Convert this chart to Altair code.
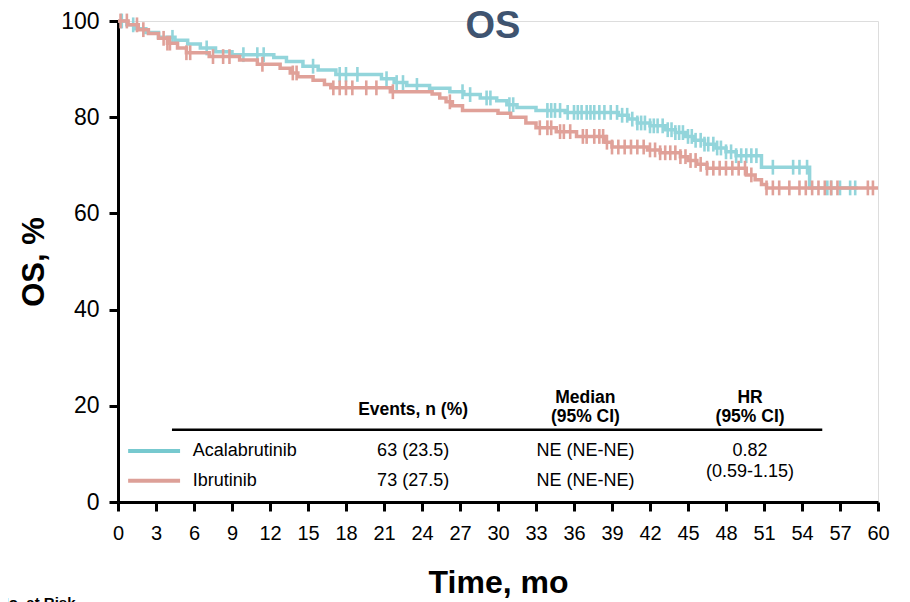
import altair as alt
import pandas as pd

FONT = "Liberation Sans"

# ---- Kaplan-Meier step data (months, OS %) ----
acala_t = [0, 0.7, 1.3, 2.2, 3.2, 4.5, 5.5, 6.5, 7.7, 9.0, 12.3, 13.3, 14.6, 15.8, 17.2,
           20.8, 21.8, 22.8, 24.6, 26.2, 27.3, 28.6, 29.9, 30.7, 31.5, 33.0, 35.3, 39.5,
           40.3, 41.0, 42.0, 43.2, 44.0, 44.8, 45.5, 46.3, 47.2, 48.0, 48.8, 50.8, 54.6, 58.4]
acala_s = [100, 99.2, 98.4, 97.6, 96.6, 96.0, 95.2, 94.4, 93.6, 93.0, 92.4, 91.6, 90.6, 89.8, 88.9,
           88.0, 87.2, 86.6, 86.0, 85.3, 84.7, 84.0, 83.4, 82.6, 82.0, 81.4, 81.0, 80.4,
           79.6, 78.8, 78.2, 77.4, 76.8, 76.0, 75.2, 74.4, 73.6, 72.8, 72.0, 69.6, 65.3, 65.3]

ibru_t = [0, 0.8, 1.6, 2.4, 3.2, 3.9, 4.7, 5.4, 7.2, 9.6, 11.0, 12.8, 13.6, 14.2, 15.4, 16.3,
          16.8, 21.5, 24.8, 25.4, 25.9, 26.4, 27.2, 30.0, 31.0, 32.2, 33.0, 34.6, 36.2, 38.5,
          39.0, 41.8, 42.8, 44.4, 45.0, 45.7, 46.5, 49.6, 50.3, 50.8, 51.2, 60.0]
ibru_s = [100, 99.2, 98.2, 97.4, 96.4, 95.4, 94.4, 93.4, 92.6, 91.9, 91.0, 90.2, 89.2, 88.4, 87.7, 86.8,
          86.1, 85.3, 84.8, 84.0, 83.2, 82.4, 81.4, 80.8, 80.0, 78.8, 77.8, 77.0, 76.0, 74.8,
          73.8, 73.2, 72.6, 71.8, 71.0, 70.2, 69.4, 68.0, 67.0, 66.0, 65.3, 65.3]

# censoring times (months)
acala_cens = [0.3, 1.2, 4.3, 7.0, 9.9, 11.0, 11.5, 15.4, 17.5, 18.0, 18.9, 21.2, 22.0, 22.5, 23.6,
              27.2, 27.8, 29.1, 29.4, 30.9, 31.2, 33.9, 34.2, 34.5, 34.9, 35.5, 36.0, 36.3, 36.6,
              37.0, 37.3, 37.6, 38.0, 38.4, 38.9, 39.4, 39.8, 40.2, 40.6, 41.0, 41.3, 41.6, 42.0,
              42.3, 42.6, 43.0, 43.4, 43.7, 44.0, 44.3, 44.6, 45.0, 45.3, 45.6, 46.0, 46.3, 46.6,
              47.0, 47.3, 47.6, 48.0, 48.4, 48.8, 49.2, 49.6, 50.0, 50.4, 51.7, 53.3, 53.8, 54.4,
              56.0, 56.3, 57.0, 57.8, 58.2]
ibru_cens = [0.2, 0.7, 1.5, 2.0, 3.6, 3.9, 4.1, 5.4, 5.7, 7.5, 8.3, 8.8, 11.4, 13.8, 14.1, 17.0,
             17.5, 18.0, 18.5, 19.6, 20.4, 21.7, 26.2, 33.3, 33.9, 34.2, 34.9, 35.2, 35.7, 36.7,
             37.0, 37.6, 38.0, 38.3, 38.6, 39.0, 39.5, 40.0, 40.5, 41.0, 41.5, 42.0, 42.4, 42.8,
             43.2, 43.6, 44.0, 44.4, 44.8, 45.2, 45.6, 46.0, 46.5, 47.0, 47.5, 48.0, 48.5, 49.0,
             49.5, 50.0, 51.2, 51.7, 52.2, 53.0, 53.8, 54.3, 54.8, 55.3, 55.8, 56.3, 56.8, 59.2, 59.6]

arms = ["Acalabrutinib", "Ibrutinib"]
line_colors = ["#93d5db", "#e0a199"]
legend_colors = ["#77c9cf", "#dda098"]

events = ["63 (23.5)", "73 (27.5)"]
medians = ["NE (NE-NE)", "NE (NE-NE)"]
hr_text = ["0.82", "(0.59-1.15)"]
x_ticks = list(range(0, 61, 3))
y_ticks = [0, 20, 40, 60, 80, 100]


def step_value(times, vals, t):
    v = vals[0]
    for ti, vi in zip(times, vals):
        if ti <= t:
            v = vi
        else:
            break
    return v


acala_df = pd.DataFrame({"t": acala_t, "s": acala_s})
ibru_df = pd.DataFrame({"t": ibru_t, "s": ibru_s})
acala_c = pd.DataFrame({"t": acala_cens, "s": [step_value(acala_t, acala_s, c) for c in acala_cens]})
ibru_c = pd.DataFrame({"t": ibru_cens, "s": [step_value(ibru_t, ibru_s, c) for c in ibru_cens]})

xs = alt.Scale(domain=[0, 60], nice=False, zero=False)
ys = alt.Scale(domain=[0, 100], nice=False)

X = alt.X("t:Q", scale=xs, title="Time, mo",
          axis=alt.Axis(values=x_ticks, labelFontSize=20, labelFont=FONT, labelColor="black",
                        labelPadding=12, tickSize=9, tickWidth=3, tickColor="black",
                        domainWidth=3, domainColor="black", grid=False, labelOverlap=False,
                        titleFont=FONT, titleFontSize=32, titleFontWeight="bold",
                        titleColor="black", titlePadding=24, labelFlush=False))
Y = alt.Y("s:Q", scale=ys, title="OS, %",
          axis=alt.Axis(values=y_ticks, labelFontSize=23, labelFont=FONT, labelColor="black",
                        labelPadding=10, tickSize=9, tickWidth=3, tickColor="black",
                        domainWidth=3, domainColor="black", grid=False, labelOverlap=False,
                        titleFont=FONT, titleFontSize=31, titleFontWeight="bold",
                        titleColor="black", titlePadding=10))

tick_shape = "M0,-1L0,1"


def km_layers(df, cdf, color):
    line = alt.Chart(df).mark_line(interpolate="step-after", strokeWidth=3.5, color=color).encode(x=X, y=Y)
    cens = alt.Chart(cdf).mark_point(shape=tick_shape, size=220, strokeWidth=2.6, filled=False,
                                     color=color, opacity=1).encode(x=X, y=Y)
    return [line, cens]


layers = km_layers(acala_df, acala_c, line_colors[0]) + km_layers(ibru_df, ibru_c, line_colors[1])

# ---- table ----
hdr = pd.DataFrame({
    "t": [23.3, 36.9, 36.9, 49.9, 49.9],
    "s": [19.1, 21.6, 17.7, 21.6, 17.7],
    "label": ["Events, n (%)", "Median", "(95% CI)", "HR", "(95% CI)"],
})
header_text = alt.Chart(hdr).mark_text(font=FONT, fontSize=17.5, fontWeight="bold", color="black",
                                       align="center", baseline="middle").encode(
    x=X, y=Y, text="label:N")

rule_df = pd.DataFrame({"t": [4.26], "t2": [55.6], "s": [15.0]})
header_rule = alt.Chart(rule_df).mark_rule(strokeWidth=2.5, color="black").encode(
    x=X, x2="t2:Q", y=Y)

row_y = [10.6, 4.4]
body = pd.DataFrame({
    "t": [5.9, 5.9],
    "s": row_y,
    "label": arms,
})
arm_text = alt.Chart(body).mark_text(font=FONT, fontSize=18, color="black", align="left",
                                     baseline="middle").encode(x=X, y=Y, text="label:N")

center_df = pd.DataFrame({
    "t": [23.3, 23.3, 36.9, 36.9, 49.9, 49.9],
    "s": [row_y[0], row_y[1], row_y[0], row_y[1], row_y[0], 6.2],
    "label": events + medians + hr_text,
})
center_text = alt.Chart(center_df).mark_text(font=FONT, fontSize=18, color="black", align="center",
                                             baseline="middle").encode(x=X, y=Y, text="label:N")

leg_layers = []
for i in range(2):
    ldf = pd.DataFrame({"t": [0.8], "t2": [4.9], "s": [row_y[i]]})
    leg_layers.append(alt.Chart(ldf).mark_rule(strokeWidth=4, color=legend_colors[i]).encode(
        x=X, x2="t2:Q", y=Y))

title_df = pd.DataFrame({"label": ["OS"]})
title_mark = alt.Chart(title_df).mark_text(font=FONT, fontSize=38, fontWeight="bold", color="#3f5470",
                                           align="center", baseline="middle").encode(
    x=alt.value(375), y=alt.value(6), text="label:N")

risk_df = pd.DataFrame({"label": ["No. at Risk"]})
risk_mark = alt.Chart(risk_df).mark_text(font=FONT, fontSize=15, fontWeight="bold", color="black",
                                         align="left", baseline="alphabetic").encode(
    x=alt.value(-120), y=alt.value(587), text="label:N")

chart = alt.layer(*layers, header_rule, header_text, arm_text, center_text, *leg_layers,
                  title_mark, risk_mark).properties(
    width=760, height=481,
    autosize=alt.AutoSizeParams(type="none"),
    padding={"left": 110, "top": 13, "right": 16, "bottom": 100},
).configure_view(stroke=None).configure_axis(labelOverlap=False).configure(background="white")

chart.save("out.html", embed_options={"renderer": "svg", "actions": False})
